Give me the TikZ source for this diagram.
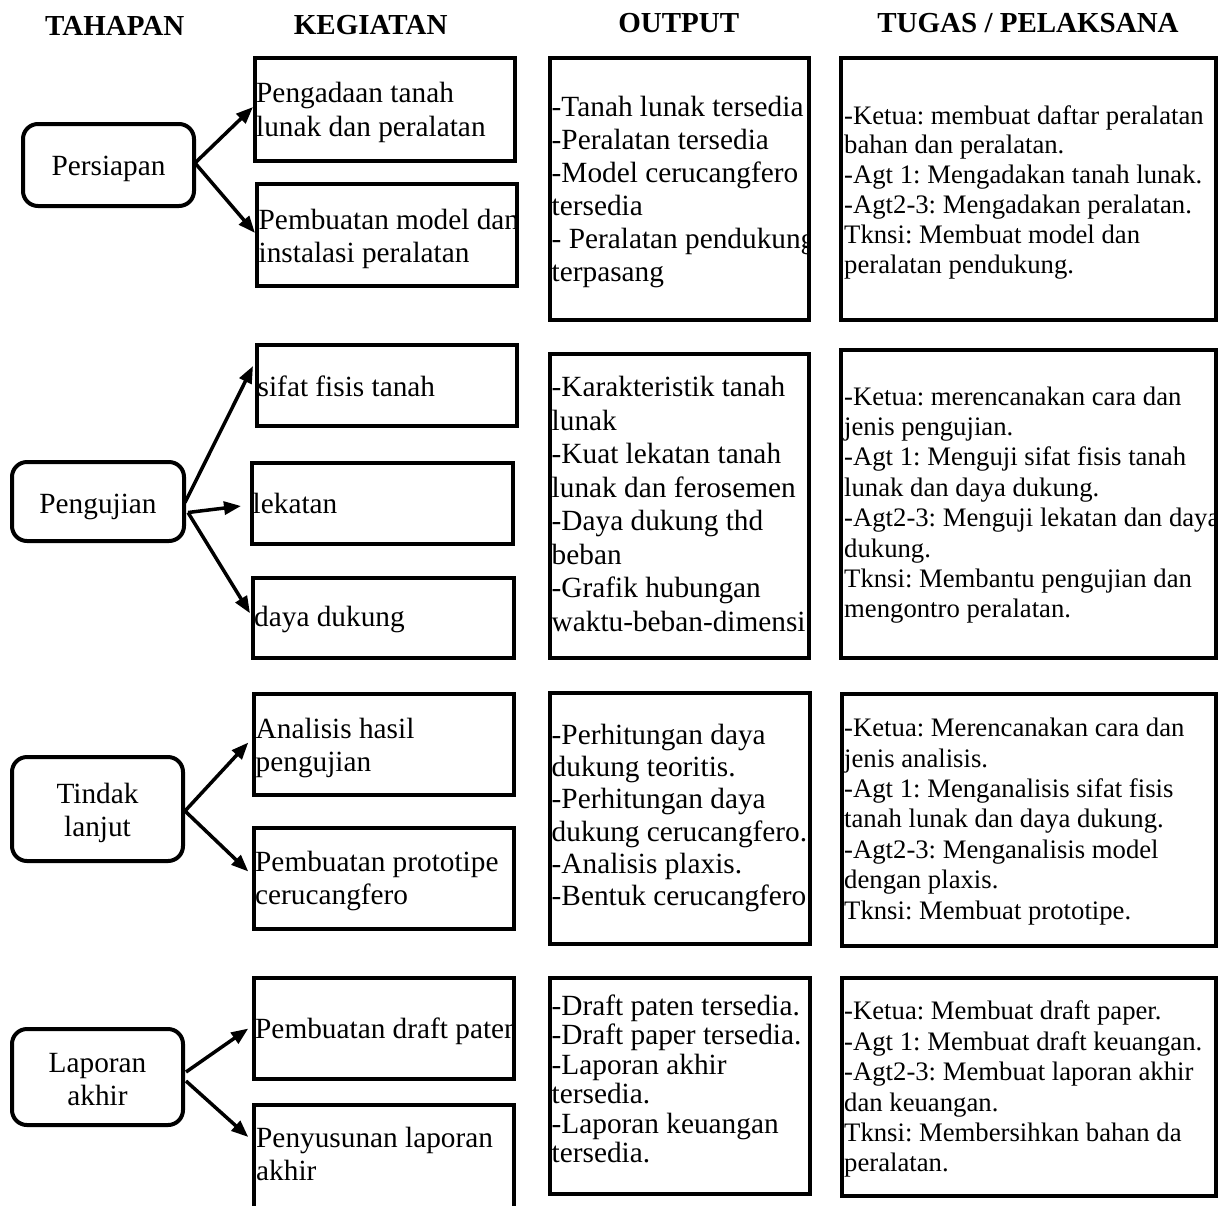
\documentclass[tikz,border=0pt]{standalone}
\usepackage{fontspec}
\setmainfont{Liberation Serif}
\usetikzlibrary{arrows.meta,fit}
\frenchspacing
\newcommand\mylines[1]{\parbox[t]{430pt}{\raggedright\frenchspacing #1}}
\newcommand\mycentre[1]{\parbox[t]{160pt}{\centering #1}}
\begin{document}
\begin{tikzpicture}[x=1pt,y=-1pt,
  stagebox/.style={draw, line width=4pt, rounded corners=15pt, inner sep=0pt, outer sep=0pt},
  plainbox/.style={draw, line width=4pt, inner sep=0pt, outer sep=0pt},
  heading/.style={anchor=base, inner sep=0pt, font=\fontsize{29}{34}\selectfont\bfseries},
  stagetxt/.style={anchor=base, inner sep=0pt, font=\fontsize{29.3}{33.5}\selectfont},
  kt/.style={anchor=base west, inner sep=0pt, font=\fontsize{29.3}{33.4}\selectfont},
  gt/.style={anchor=base west, inner sep=0pt, font=\fontsize{26.7}{30.4}\selectfont},
  arr/.style={line width=3.5pt, -{Triangle[length=17pt,width=13pt]}}
]
\useasboundingbox (0,0) rectangle (1225,1205);
\fill[white] (0,0) rectangle (1225,1205);

% headings
\node[heading] (h1) at (114.7,35.5) {TAHAPAN};
\node[heading] (h2) at (370.7,34.3) {KEGIATAN};
\node[heading] (h3) at (678.7,32.3) {OUTPUT};
\node[heading] (h4) at (1028,32.3) {TUGAS / PELAKSANA};

% stage texts
\node[stagetxt] (t1t) at (108.5,175) {Persiapan};
\node[stagetxt] (t2t) at (98,513.3) {Pengujian};
\node[stagetxt] (t3t) at (97.5,803) {\mycentre{Tindak\\lanjut}};
\node[stagetxt, font=\fontsize{29.3}{32.3}\selectfont] (t4t) at (97.5,1072.7) {\mycentre{Laporan\\akhir}};

% kegiatan texts
\node[kt, font=\fontsize{29.3}{34}\selectfont] (k1t) at (256,102.7) {\mylines{Pengadaan tanah\\lunak dan peralatan}};
\begin{scope}
\clip (257,184) rectangle (517,286);
\node[kt] (k2t) at (258.5,229.3) {\mylines{Pembuatan model dan\\instalasi peralatan}};
\end{scope}
\node[kt] (k3t) at (257.5,396.7) {sifat fisis tanah};
\node[kt] (k4t) at (252.5,513.3) {lekatan};
\node[kt] (k5t) at (254,626.7) {daya dukung};
\node[kt] (k6t) at (255.5,738.3) {\mylines{Analisis hasil\\pengujian}};
\node[kt] (k7t) at (255,871.4) {\mylines{Pembuatan prototipe\\cerucangfero}};
\begin{scope}
\clip (254,978) rectangle (514,1079);
\node[kt] (k8t) at (255,1038.6) {Pembuatan draft paten};
\end{scope}
\node[kt, font=\fontsize{29.3}{32.2}\selectfont] (k9t) at (256,1147.8) {\mylines{Penyusunan laporan\\akhir}};

% output texts
\begin{scope}
\clip (550,58) rectangle (809,320);
\node[kt, font=\fontsize{29.3}{33.1}\selectfont] (o1t) at (551.5,116) {\mylines{-Tanah lunak tersedia\\-Peralatan tersedia\\-Model cerucangfero\\tersedia\\- Peralatan pendukung\\terpasang}};
\end{scope}
\node[kt, font=\fontsize{29.3}{33.5}\selectfont] (o2t) at (551.5,396.7) {\mylines{-Karakteristik tanah\\lunak\\-Kuat lekatan tanah\\lunak dan ferosemen\\-Daya dukung thd\\beban\\-Grafik hubungan\\waktu-beban-dimensi}};
\node[kt, font=\fontsize{29.3}{32.2}\selectfont] (o3t) at (551.5,744.4) {\mylines{-Perhitungan daya\\dukung teoritis.\\-Perhitungan daya\\dukung cerucangfero.\\-Analisis plaxis.\\-Bentuk cerucangfero}};
\node[kt, font=\fontsize{29.3}{29.5}\selectfont] (o4t) at (551.5,1015.4) {\mylines{-Draft paten tersedia.\\-Draft paper tersedia.\\-Laporan akhir\\tersedia.\\-Laporan keuangan\\tersedia.}};

% tugas texts
\node[gt, font=\fontsize{26.7}{29.9}\selectfont] (g1t) at (844,124) {\mylines{-Ketua: membuat daftar peralatan\\bahan dan peralatan.\\-Agt 1: Mengadakan tanah lunak.\\-Agt2-3: Mengadakan peralatan.\\Tknsi: Membuat model dan\\peralatan pendukung.}};
\begin{scope}
\clip (841,350) rectangle (1216,658);
\node[gt] (g2t) at (844,405) {\mylines{-Ketua: merencanakan cara dan\\jenis pengujian.\\-Agt 1: Menguji sifat fisis tanah\\lunak dan daya dukung.\\-Agt2-3: Menguji lekatan dan daya\\dukung.\\Tknsi: Membantu pengujian dan\\mengontro peralatan.}};
\end{scope}
\node[gt] (g3t) at (844,736.6) {\mylines{-Ketua: Merencanakan cara dan\\jenis analisis.\\-Agt 1: Menganalisis sifat fisis\\tanah lunak dan daya dukung.\\-Agt2-3: Menganalisis model\\dengan plaxis.\\Tknsi: Membuat prototipe.}};
\node[gt] (g4t) at (844,1019.8) {\mylines{-Ketua: Membuat draft paper.\\-Agt 1: Membuat draft keuangan.\\-Agt2-3: Membuat laporan akhir\\dan keuangan.\\Tknsi: Membersihkan bahan da\\peralatan.}};

% boxes
\node[stagebox, fit={(23,124) (194,206)}] (t1) {};
\node[stagebox, fit={(12,462) (184,541)}] (t2) {};
\node[stagebox, fit={(12,757) (183,861)}] (t3) {};
\node[stagebox, fit={(12,1029) (183,1125)}] (t4) {};

\node[plainbox, fit={(255,58) (515,161)}] (k1) {};
\node[plainbox, fit={(257,184) (517,286)}] (k2) {};
\node[plainbox, fit={(257,345) (517,426)}] (k3) {};
\node[plainbox, fit={(252,463) (513,544)}] (k4) {};
\node[plainbox, fit={(253,578) (514,658)}] (k5) {};
\node[plainbox, fit={(254,694) (514,795)}] (k6) {};
\node[plainbox, fit={(254,828) (514,929)}] (k7) {};
\node[plainbox, fit={(254,978) (514,1079)}] (k8) {};
\node[plainbox, fit={(254,1105) (514,1230)}] (k9) {};

\node[plainbox, fit={(550,58) (809,320)}] (o1) {};
\node[plainbox, fit={(550,354) (809,658)}] (o2) {};
\node[plainbox, fit={(550,693) (810,944)}] (o3) {};
\node[plainbox, fit={(550,978) (810,1194)}] (o4) {};

\node[plainbox, fit={(841,58) (1216,320)}] (g1) {};
\node[plainbox, fit={(841,350) (1216,658)}] (g2) {};
\node[plainbox, fit={(842,694) (1216,946)}] (g3) {};
\node[plainbox, fit={(842,978) (1216,1196)}] (g4) {};

% arrows
\draw[arr] ([shift={(1,-2)}]t1.east) -- ([shift={(-2,-2.5)}]k1.west);
\draw[arr] ([shift={(1,-2)}]t1.east) -- ([shift={(-2,-2)}]k2.west);

\draw[arr] ([shift={(1,1)}]t2.east) -- ([shift={(-4,-19.5)}]k3.west);
\draw[arr] ([shift={(4,11)}]t2.east) -- ([shift={(-11,2.5)}]k4.west);
\draw[arr] ([shift={(4,11)}]t2.east) -- ([shift={(-3,-4.7)}]k5.west);

\draw[arr] ([shift={(2,2)}]t3.east) -- ([shift={(-5.7,-2)}]k6.west);
\draw[arr] ([shift={(2,2)}]t3.east) -- ([shift={(-5.7,-7)}]k7.west);

\draw[arr] ([shift={(3,-5)}]t4.east) -- ([shift={(-5.7,0)}]k8.west);
\draw[arr] ([shift={(3,4)}]t4.east) -- ([shift={(-5.7,32)}]k9.north west);
\end{tikzpicture}
\end{document}
